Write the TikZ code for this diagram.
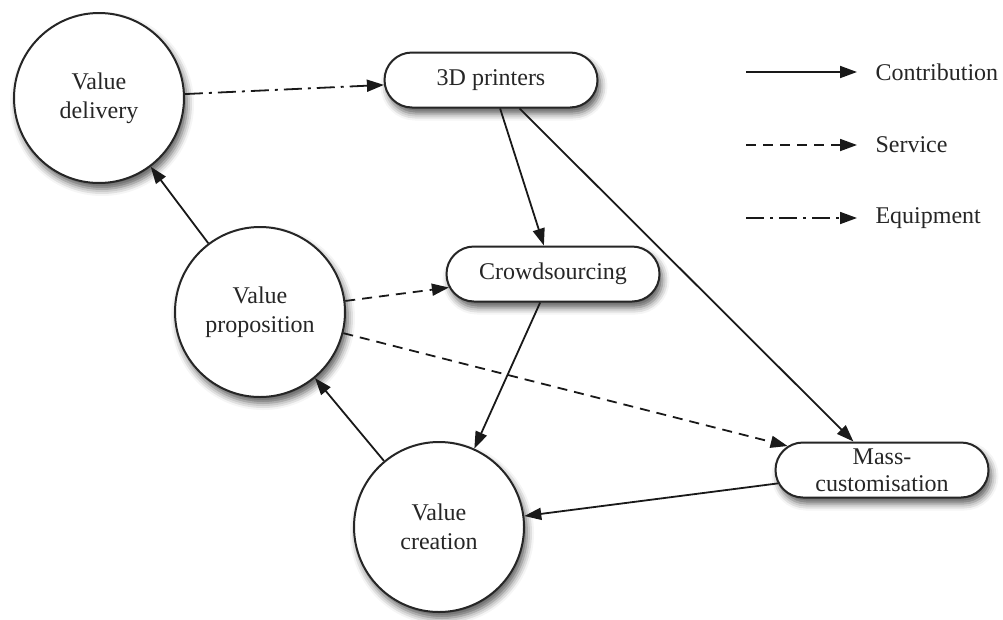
\documentclass[tikz,border=0pt]{standalone}
\usepackage{fontspec}
\setmainfont{Liberation Serif}
\usetikzlibrary{arrows.meta,shapes.misc,shadows.blur}

\tikzset{
  txt/.style={font=\fontsize{24}{29}\selectfont, text=black!85, align=center},
  shade/.style={blur shadow={shadow xshift=3pt, shadow yshift=-6pt, shadow blur radius=7pt, shadow opacity=65}},
  valuecircle/.style={txt, circle, draw=black!85, line width=2pt, fill=white,
    minimum size=170pt, inner sep=0pt, shade},
  pill/.style={txt, rounded rectangle, draw=black!85, line width=2pt, fill=white,
    minimum width=217pt, minimum height=55pt, inner sep=2pt, shade},
  link/.style={line width=1.8pt, draw=black!90, -{Triangle[length=17pt,width=12pt]}},
  contribution/.style={link},
  service/.style={link, dash pattern=on 10pt off 7pt},
  equipment/.style={link, dash pattern=on 18pt off 6pt on 3pt off 6pt},
}

\begin{document}
\begin{tikzpicture}[x=1pt,y=-1pt]
  \useasboundingbox (0,0) rectangle (1003,619);

  % value nodes
  \node[valuecircle] (vd) at (99,98)  {Value\\delivery};
  \node[valuecircle] (vp) at (260,312) {Value\\proposition};
  \node[valuecircle] (vc) at (439,527) {Value\\creation};

  % enablers
  \node[pill] (p3d)  at (491,80)  {3D printers};
  \node[pill] (cs)   at (553,274) {Crowdsourcing};
  \node[pill] (mass) at (882,470) {Mass-\\[-2pt]customisation};

  % links between nodes
  \draw[equipment]    (vd) -- (p3d);
  \draw[contribution] (p3d) -- (cs);
  \draw[contribution] (p3d) -- (mass);
  \draw[contribution] (vp) -- (vd);
  \draw[service]      (vp) -- (cs);
  \draw[service]      (vp) -- (mass);
  \draw[contribution] (cs) -- (vc);
  \draw[contribution] (vc) -- (vp);
  \draw[contribution] (mass) -- (vc);

  % legend
  \coordinate (l1a) at (746,72);  \coordinate (l1b) at (857,72);
  \coordinate (l2a) at (746,145); \coordinate (l2b) at (857,145);
  \coordinate (l3a) at (746,218); \coordinate (l3b) at (857,218);
  \draw[contribution] (l1a) -- (l1b);
  \draw[service]      (l2a) -- (l2b);
  \draw[equipment]    (l3a) -- (l3b);
  \node[txt, anchor=west] (lc) at (872,72)  {Contribution};
  \node[txt, anchor=west] (ls) at (872,145) {Service};
  \node[txt, anchor=west] (le) at (872,218) {Equipment};
\end{tikzpicture}
\end{document}
